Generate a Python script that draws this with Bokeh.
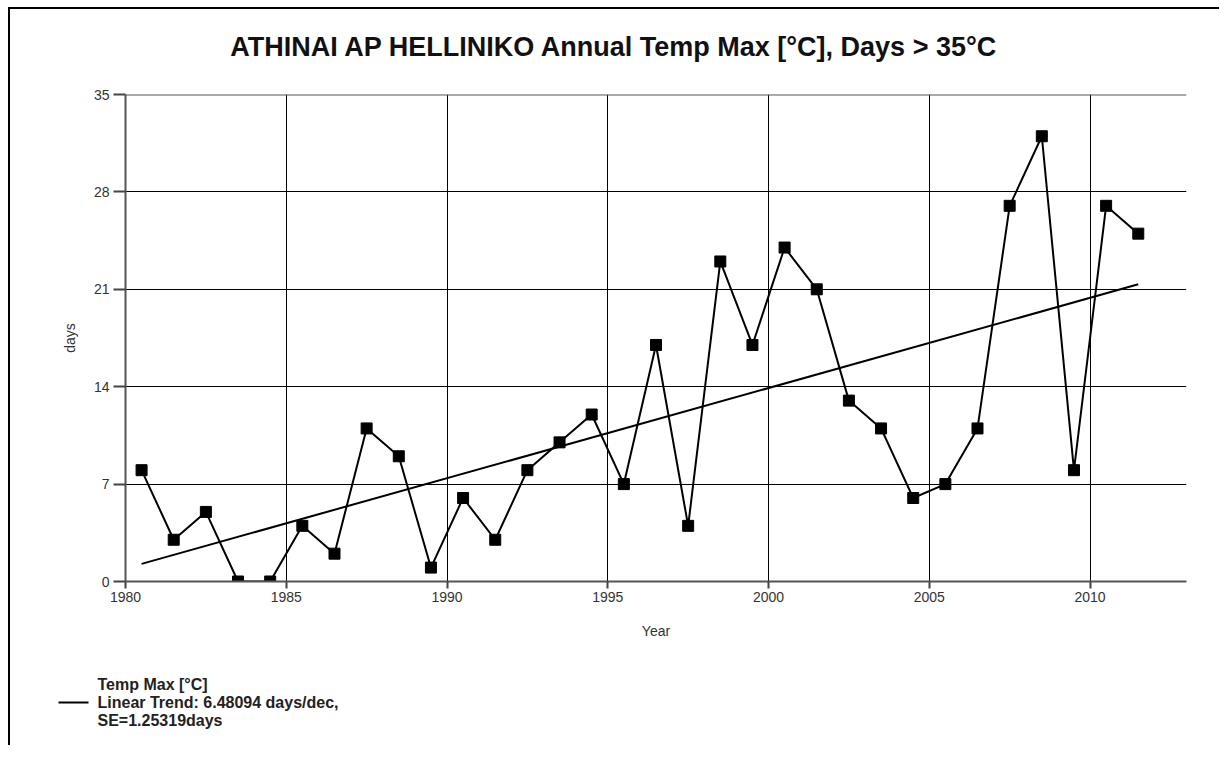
import numpy as np
from bokeh.plotting import figure
from bokeh.models import Span, FixedTicker
from bokeh.core.properties import value
from bokeh.embed import file_html
from bokeh.resources import INLINE

# ---- data ----
years = [1980, 1981, 1982, 1983, 1984, 1985, 1986, 1987, 1988, 1989,
         1990, 1991, 1992, 1993, 1994, 1995, 1996, 1997, 1998, 1999,
         2000, 2001, 2002, 2003, 2004, 2005, 2006, 2007, 2008, 2009,
         2010, 2011]
days_over_35 = [8, 3, 5, 0, 0, 4, 2, 11, 9, 1,
                6, 3, 8, 10, 12, 7, 17, 4, 23, 17,
                24, 21, 13, 11, 6, 7, 11, 27, 32, 8,
                27, 25]
x_ticks = [1980, 1985, 1990, 1995, 2000, 2005, 2010]
y_ticks = [0, 7, 14, 21, 28, 35]
title_text = "ATHINAI AP HELLINIKO Annual Temp Max [°C], Days > 35°C"
legend_lines = ["Temp Max [°C]", "Linear Trend: 6.48094 days/dec,", "SE=1.25319days"]

# mid-year positions
xm = np.array(years, dtype=float) + 0.5
yv = np.array(days_over_35, dtype=float)
slope, intercept = np.polyfit(xm, yv, 1)
trend_x = [xm[0], xm[-1]]
trend_y = [slope * xm[0] + intercept, slope * xm[-1] + intercept]

FONT = "Liberation Sans"
W = 1211


def strip(height, inner_height):
    f = figure(width=W, height=height, x_range=(0, W), y_range=(inner_height, 0),
               output_backend="svg", toolbar_location=None,
               x_axis_type=None, y_axis_type=None,
               min_border_left=0, min_border_right=0, min_border_top=0, min_border_bottom=0)
    f.grid.visible = False
    f.outline_line_color = None
    f.background_fill_color = "white"
    f.border_fill_color = "white"
    return f


# ---- title strip ----
TH = 70
top = strip(TH, TH - 2)
top.styles = {"border-left": "2px solid black", "border-top": "2px solid black",
              "margin-left": "8px", "margin-top": "7px"}
top.text(x=[604], y=[36], text=[title_text], text_font=value(FONT),
         text_font_size="27px", text_font_style="bold", text_color="#111111",
         text_align="center", text_baseline="middle")

# ---- main chart ----
p = figure(width=W, height=573, x_range=(1980, 2013), y_range=(0, 35),
           output_backend="svg", toolbar_location=None, title=None,
           min_border_left=115, min_border_right=35, min_border_top=17,
           min_border_bottom=69)
p.styles = {"border-left": "2px solid black", "margin-left": "8px"}
p.outline_line_color = None
p.background_fill_color = "white"
p.border_fill_color = "white"

p.xaxis.ticker = FixedTicker(ticks=x_ticks)
p.yaxis.ticker = FixedTicker(ticks=y_ticks)
for ax in (p.xaxis[0], p.yaxis[0]):
    ax.axis_line_color = "#555555"
    ax.axis_line_width = 2
    ax.major_tick_line_color = "#444444"
    ax.major_tick_line_width = 2
    ax.minor_tick_line_color = None
    ax.major_tick_in = 0
    ax.major_label_text_font = FONT
    ax.major_label_text_font_size = "14px"
    ax.major_label_text_color = "#333333"
    ax.axis_label_text_font = FONT
    ax.axis_label_text_font_size = "14px"
    ax.axis_label_text_font_style = "normal"
    ax.axis_label_text_color = "#333333"
p.xaxis.major_tick_out = 7
p.yaxis.major_tick_out = 12
p.xaxis.major_label_standoff = 3
p.yaxis.major_label_standoff = 4
p.xaxis.axis_label = "Year"
p.yaxis.axis_label = "days"
p.xaxis.axis_label_standoff = 18
p.yaxis.axis_label_standoff = 13

p.xgrid.grid_line_color = "black"
p.ygrid.grid_line_color = "black"
p.xgrid.grid_line_width = 1
p.ygrid.grid_line_width = 1

p.add_layout(Span(location=35, dimension="width", line_color="#555555", line_width=2))

p.line(xm, yv, line_color="black", line_width=2)
p.scatter(xm, yv, marker="square", size=11, fill_color="black", line_color="black")
p.line(trend_x, trend_y, line_color="black", line_width=2)

# ---- legend strip ----
LH = 95
leg = strip(LH, LH)
leg.styles = {"border-left": "2px solid black", "margin-left": "8px"}
leg.line([48, 78], [52, 52], line_color="black", line_width=2)
leg.text(x=[87, 87, 87], y=[34, 52, 70], text=legend_lines,
         text_font=value(FONT), text_font_size="16px", text_font_style="bold",
         text_color="#222222", text_baseline="middle", text_align="left")

open("out.html", "w").write(file_html([top, p, leg], INLINE))
